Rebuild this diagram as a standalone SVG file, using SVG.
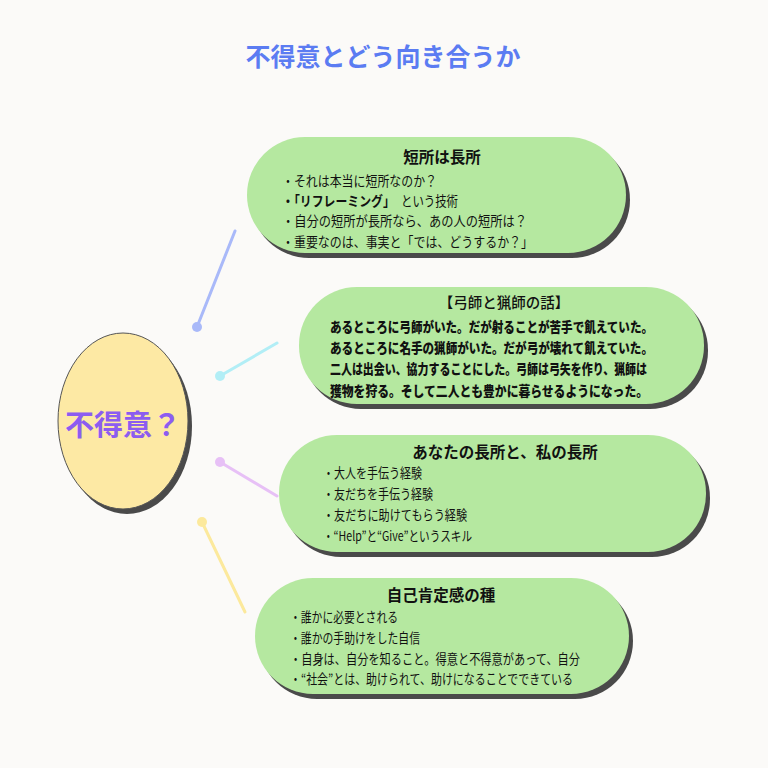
<svg xmlns="http://www.w3.org/2000/svg" width="768" height="768" viewBox="0 0 768 768">
<style>
.pill{fill:#b5e8a0}
.shadow{fill:#4a4a4a}
.ttl{font-family:"Noto Sans CJK JP","Noto Sans",sans-serif;font-weight:bold;font-size:15.5px;fill:#111;text-anchor:middle}
.txt{font-family:"Noto Sans CJK JP","Noto Sans",sans-serif;font-size:13.5px;fill:#111}
.hand{font-family:"Noto Sans CJK JP","Noto Sans",sans-serif;font-weight:900;font-size:14px;fill:#111}
.con{stroke-width:3;fill:none;stroke-linecap:round}
</style>
<rect width="768" height="768" fill="#fbfaf8"/>
<text x="383" y="66" font-family="Noto Sans CJK JP, sans-serif" font-weight="bold" font-size="25" fill="#5b7cf2" text-anchor="middle">不得意とどう向き合うか</text>

<g id="connectors">
  <line class="con" x1="197" y1="327" x2="235" y2="231" stroke="#a9b9f9"/>
  <circle cx="197" cy="327" r="5" fill="#a9b9f9"/>
  <line class="con" x1="220" y1="376" x2="277" y2="343" stroke="#b2eef6"/>
  <circle cx="220" cy="376" r="5" fill="#b2eef6"/>
  <line class="con" x1="220" y1="462" x2="277" y2="496" stroke="#e7c0f6"/>
  <circle cx="220" cy="462" r="5" fill="#e7c0f6"/>
  <line class="con" x1="202" y1="522" x2="245" y2="612" stroke="#fce99c"/>
  <circle cx="202" cy="522" r="5" fill="#fce99c"/>
</g>

<g id="center">
  <ellipse cx="127" cy="426" rx="65" ry="88" class="shadow"/>
  <ellipse cx="123" cy="421" rx="65" ry="88" fill="#fde9a4" stroke="#555" stroke-width="1"/>
  <text x="123" y="436" font-family="Noto Sans CJK JP, sans-serif" font-weight="bold" font-size="29" fill="#8c5cf0" text-anchor="middle">不得意？</text>
</g>

<g id="node1">
  <rect x="251" y="142" width="379" height="116" rx="58" class="shadow"/>
  <rect x="247" y="137" width="379" height="116" rx="58" class="pill"/>
  <text x="442" y="163" class="ttl">短所は長所</text>
  <text x="282" y="186" class="txt" textLength="155" lengthAdjust="spacingAndGlyphs">・それは本当に短所なのか？</text>
  <text transform="translate(282 206) scale(0.88 1)" x="0" y="0" class="txt" font-weight="bold">・「リフレーミング」</text>
  <text x="401" y="206" class="txt" textLength="57" lengthAdjust="spacingAndGlyphs">という技術</text>
  <text x="282" y="226" class="txt" textLength="245" lengthAdjust="spacingAndGlyphs">・自分の短所が長所なら、あの人の短所は？</text>
  <text x="282" y="247" class="txt" textLength="251" lengthAdjust="spacingAndGlyphs">・重要なのは、事実と「では、どうするか？」</text>
</g>

<g id="node2">
  <rect x="303" y="292" width="405" height="117" rx="58" class="shadow"/>
  <rect x="299" y="287" width="405" height="117" rx="58" class="pill"/>
  <text x="504" y="308" class="ttl" style="font-weight:500;font-size:14.5px">【弓師と猟師の話】</text>
  <text x="330" y="332" class="hand" textLength="323" lengthAdjust="spacingAndGlyphs">あるところに弓師がいた。だが射ることが苦手で飢えていた。</text>
  <text x="330" y="353" class="hand" textLength="323" lengthAdjust="spacingAndGlyphs">あるところに名手の猟師がいた。だが弓が壊れて飢えていた。</text>
  <text x="330" y="374" class="hand" textLength="317" lengthAdjust="spacingAndGlyphs">二人は出会い、協力することにした。弓師は弓矢を作り、猟師は</text>
  <text x="330" y="396" class="hand" textLength="318" lengthAdjust="spacingAndGlyphs">獲物を狩る。そして二人とも豊かに暮らせるようになった。</text>
</g>

<g id="node3">
  <rect x="283" y="440" width="427" height="117" rx="58" class="shadow"/>
  <rect x="279" y="435" width="427" height="117" rx="58" class="pill"/>
  <text x="505" y="458" class="ttl">あなたの長所と、私の長所</text>
  <text x="323" y="478" class="txt" textLength="99" lengthAdjust="spacingAndGlyphs">・大人を手伝う経験</text>
  <text x="323" y="499" class="txt" textLength="110" lengthAdjust="spacingAndGlyphs">・友だちを手伝う経験</text>
  <text x="323" y="520" class="txt" textLength="144" lengthAdjust="spacingAndGlyphs">・友だちに助けてもらう経験</text>
  <text x="323" y="541" class="txt" textLength="149" lengthAdjust="spacingAndGlyphs">・“Help”と“Give”というスキル</text>
</g>

<g id="node4">
  <rect x="259" y="583" width="374" height="116" rx="58" class="shadow"/>
  <rect x="255" y="578" width="374" height="116" rx="58" class="pill"/>
  <text x="441" y="601" class="ttl">自己肯定感の種</text>
  <text x="290" y="622" class="txt" textLength="108" lengthAdjust="spacingAndGlyphs">・誰かに必要とされる</text>
  <text x="290" y="643" class="txt" textLength="130" lengthAdjust="spacingAndGlyphs">・誰かの手助けをした自信</text>
  <text x="290" y="664" class="txt" textLength="290" lengthAdjust="spacingAndGlyphs">・自身は、自分を知ること。得意と不得意があって、自分</text>
  <text x="290" y="684" class="txt" textLength="283" lengthAdjust="spacingAndGlyphs">・“社会”とは、助けられて、助けになることでできている</text>
</g>
</svg>
